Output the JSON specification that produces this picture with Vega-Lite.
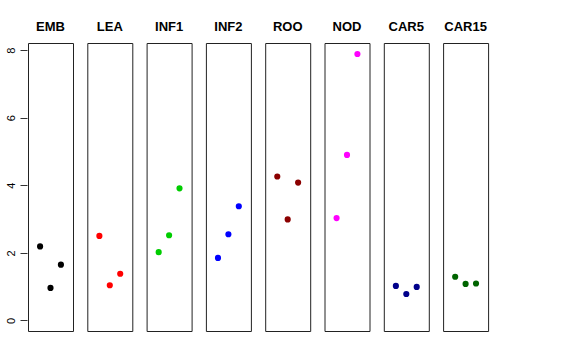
{
  "$schema": "https://vega.github.io/schema/vega-lite/v6.json",
  "padding": {"left": 5, "top": 21, "right": 5, "bottom": 5},
  "background": "white",
  "data": {"values": [
    {"panel": "EMB", "i": 1, "v": 2.19},
    {"panel": "EMB", "i": 2, "v": 0.96},
    {"panel": "EMB", "i": 3, "v": 1.65},
    {"panel": "LEA", "i": 1, "v": 2.50},
    {"panel": "LEA", "i": 2, "v": 1.04},
    {"panel": "LEA", "i": 3, "v": 1.38},
    {"panel": "INF1", "i": 1, "v": 2.02},
    {"panel": "INF1", "i": 2, "v": 2.52},
    {"panel": "INF1", "i": 3, "v": 3.91},
    {"panel": "INF2", "i": 1, "v": 1.85},
    {"panel": "INF2", "i": 2, "v": 2.55},
    {"panel": "INF2", "i": 3, "v": 3.38},
    {"panel": "ROO", "i": 1, "v": 4.26},
    {"panel": "ROO", "i": 2, "v": 2.99},
    {"panel": "ROO", "i": 3, "v": 4.08},
    {"panel": "NOD", "i": 1, "v": 3.03},
    {"panel": "NOD", "i": 2, "v": 4.90},
    {"panel": "NOD", "i": 3, "v": 7.89},
    {"panel": "CAR5", "i": 1, "v": 1.02},
    {"panel": "CAR5", "i": 2, "v": 0.78},
    {"panel": "CAR5", "i": 3, "v": 0.99},
    {"panel": "CAR15", "i": 1, "v": 1.29},
    {"panel": "CAR15", "i": 2, "v": 1.08},
    {"panel": "CAR15", "i": 3, "v": 1.09}
  ]},
  "facet": {
    "column": {
      "field": "panel",
      "type": "nominal",
      "sort": ["EMB", "LEA", "INF1", "INF2", "ROO", "NOD", "CAR5", "CAR15"],
      "header": {
        "title": null,
        "labelFont": "Liberation Sans",
        "labelFontSize": 13,
        "labelFontWeight": "bold",
        "labelColor": "black",
        "labelPadding": 8
      }
    }
  },
  "spacing": 12.3,
  "spec": {
    "width": 45,
    "height": 288,
    "mark": {"type": "point", "filled": true, "opacity": 1, "size": 38},
    "encoding": {
      "x": {
        "field": "i",
        "type": "quantitative",
        "scale": {"domain": [-0.16, 4.16], "nice": false, "zero": false},
        "axis": null
      },
      "y": {
        "field": "v",
        "type": "quantitative",
        "scale": {"domain": [-0.316, 8.216], "nice": false, "zero": false},
        "axis": {
          "title": null,
          "values": [0, 2, 4, 6, 8],
          "domain": false,
          "grid": false,
          "tickSize": 7,
          "tickColor": "#333",
          "labelAngle": 270,
          "labelAlign": "center",
          "labelBaseline": "bottom",
          "labelPadding": 4,
          "labelFont": "Liberation Sans",
          "labelFontSize": 11,
          "labelColor": "black"
        }
      },
      "color": {
        "field": "panel",
        "type": "nominal",
        "scale": {
          "domain": ["EMB", "LEA", "INF1", "INF2", "ROO", "NOD", "CAR5", "CAR15"],
          "range": ["#000000", "#ff0000", "#00cd00", "#0000ff", "#8b0000", "#ff00ff", "#00008b", "#006400"]
        },
        "legend": null
      }
    }
  },
  "config": {
    "view": {"stroke": "#222", "strokeWidth": 1}
  }
}
